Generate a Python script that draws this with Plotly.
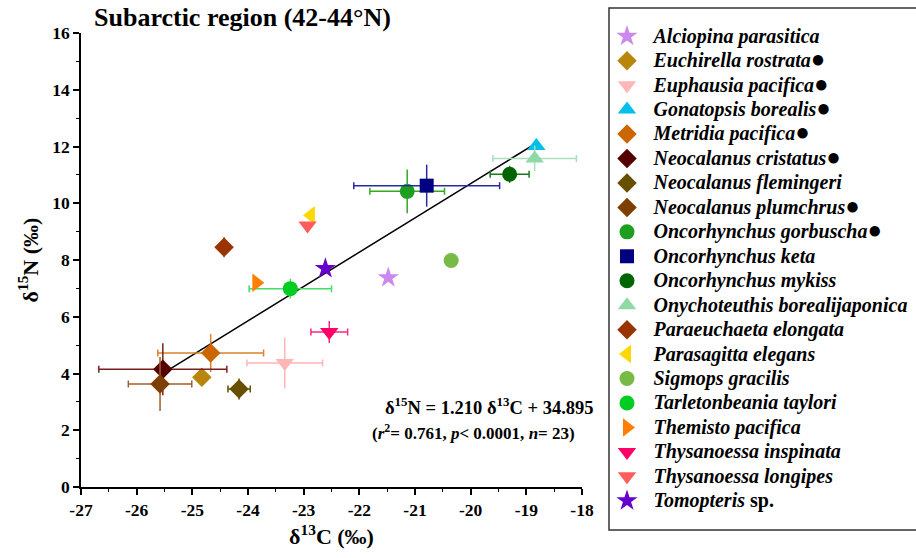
import plotly.graph_objects as go

# ---------------- data ----------------
species = [
    "Alciopina parasitica", "Euchirella rostrata", "Euphausia pacifica",
    "Gonatopsis borealis", "Metridia pacifica", "Neocalanus cristatus",
    "Neocalanus flemingeri", "Neocalanus plumchrus", "Oncorhynchus gorbuscha",
    "Oncorhynchus keta", "Oncorhynchus mykiss", "Onychoteuthis borealijaponica",
    "Paraeuchaeta elongata", "Parasagitta elegans", "Sigmops gracilis",
    "Tarletonbeania taylori", "Themisto pacifica", "Thysanoessa inspinata",
    "Thysanoessa longipes", "Tomopteris sp.",
]
marked = [False, True, True, True, True, True, False, True, True,
          False, False, False, False, False, False, False, False, False, False, False]
d13C = [-21.48, -24.83, -23.34, -18.82, -24.67, -25.53, -24.16, -25.58, -21.14,
        -20.79, -19.30, -18.85, -24.43, -22.87, -20.35, -23.24, -23.85, -22.54,
        -22.93, -22.61]
d15N = [7.38, 3.87, 4.37, 12.02, 4.72, 4.15, 3.45, 3.63, 10.42,
        10.62, 11.02, 11.58, 8.45, 9.58, 7.98, 6.99, 7.20, 5.46,
        9.22, 7.70]
xerr = [None, None, 0.68, None, 0.95, 1.15, 0.20, 0.57, 0.67,
        1.31, 0.35, 0.75, None, None, None, 0.74, None, 0.33,
        None, None]
yerr = [None, None, 0.90, None, 0.67, 0.92, 0.37, 0.95, 0.77,
        0.74, 0.30, 0.45, 0.35, None, None, 0.35, None, 0.39,
        None, None]

slope, intercept = 1.210, 34.895
fit_x = [-25.55, -18.88]

x_ticks = list(range(-27, -17))
y_ticks = list(range(0, 17, 2))

# ---------------- styles ----------------
symbols = ["star", "diamond", "triangle-down", "triangle-up", "diamond", "diamond",
           "diamond", "diamond", "circle", "square", "circle", "triangle-up",
           "diamond", "triangle-left", "circle", "circle", "triangle-right",
           "triangle-down", "triangle-down", "star"]
colors = ["#cc88ee", "#b8860b", "#ffb6b6", "#00bfe8", "#cc6600", "#550000",
          "#665000", "#7f3f00", "#1f9f1f", "#000080", "#006400", "#8fd8a8",
          "#993300", "#ffd700", "#77bb44", "#00cc22", "#ff7f00", "#ff0066",
          "#ff5c5c", "#6600cc"]
err_colors = ["#cc88ee", "#b8860b", "#ffb6b6", "#00bfe8", "#d9822b", "#7a2020",
              "#665000", "#a0602a", "#33aa22", "#2a2aa0", "#1a7a1a", "#a8e0bc",
              "#c0602a", "#ffd700", "#77bb44", "#44dd66", "#ff7f00", "#ff2a7f",
              "#ff5c5c", "#6600cc"]
sizes = [16, 15, 16, 16, 15, 15, 15, 15, 15, 14, 15, 16, 15, 16, 15, 15, 16, 16, 16, 16]

SERIF = "Liberation Serif"

fig = go.Figure()

# regression line
fig.add_trace(go.Scatter(
    x=fit_x, y=[slope * v + intercept for v in fit_x], mode="lines",
    line=dict(color="black", width=1.5), showlegend=False, hoverinfo="skip"))

for i, name in enumerate(species):
    if name.endswith(" sp."):
        core = "<i>" + name[:-4] + "</i> sp."
    else:
        core = "<i>" + name + "</i>"
    label = ("<span style='font-size:26px'>&nbsp;</span>"
             "<span style='font-size:20px'><b>" + core + "</b></span>")
    if marked[i]:
        label += "<span style='font-size:24px'>●</span>"
    ex = dict(visible=False)
    ey = dict(visible=False)
    if xerr[i] is not None:
        ex = dict(type="data", array=[xerr[i]], visible=True, color=err_colors[i],
                  thickness=1.5, width=3.5)
    if yerr[i] is not None:
        ey = dict(type="data", array=[yerr[i]], visible=True, color=err_colors[i],
                  thickness=1.5, width=0)
    fig.add_trace(go.Scatter(
        x=[d13C[i]], y=[d15N[i]], mode="markers", name=label,
        marker=dict(symbol=symbols[i], color=colors[i], size=sizes[i], line=dict(width=0)),
        error_x=ex, error_y=ey))

fig.update_layout(
    width=916, height=558,
    margin=dict(l=81, r=334, t=33, b=71),
    paper_bgcolor="white", plot_bgcolor="white",
    font=dict(family=SERIF, color="black"),
    showlegend=True,
    legend=dict(
        xref="container", yref="container",
        x=607 / 916, y=1 - 19 / 558, xanchor="left", yanchor="top",
        borderwidth=0, bgcolor="rgba(0,0,0,0)",
        font=dict(family=SERIF, size=16.5, color="black"),
        tracegroupgap=0, itemwidth=30, maxheight=550,
    ),
    shapes=[
        dict(type="rect", xref="paper", yref="paper",
             x0=(609 - 81) / 501, x1=1.7, y0=(487 - 530) / 454, y1=(487 - 8) / 454,
             line=dict(color="#333333", width=1.5), fillcolor="rgba(0,0,0,0)", layer="below"),
    ],
    xaxis=dict(
        range=[-27, -18], tickvals=x_ticks, ticktext=[f"<b>{v}</b>" for v in x_ticks],
        showline=True, linecolor="black", linewidth=1.5, mirror=False,
        ticks="outside", ticklen=6, tickwidth=1.5, tickcolor="black",
        minor=dict(dtick=0.5, ticks="outside", ticklen=3, tickwidth=1.2, tickcolor="black"),
        showgrid=False, zeroline=False,
        tickfont=dict(family=SERIF, size=17.5),
        title=dict(text="<b>δ<sup>13</sup>C (‰)</b>", font=dict(family=SERIF, size=22), standoff=10),
    ),
    yaxis=dict(
        range=[0, 16], tickvals=y_ticks, ticktext=[f"<b>{v}</b>" for v in y_ticks],
        showline=True, linecolor="black", linewidth=1.5, mirror=False,
        ticks="outside", ticklen=6, tickwidth=1.5, tickcolor="black",
        minor=dict(dtick=1, ticks="outside", ticklen=3, tickwidth=1.2, tickcolor="black"),
        showgrid=False, zeroline=False,
        tickfont=dict(family=SERIF, size=17.5),
        title=dict(text="<b>δ<sup>15</sup>N (‰)</b>", font=dict(family=SERIF, size=22), standoff=8),
    ),
    annotations=[
        dict(text="<b>Subarctic region (42-44°N)</b>", xref="paper", yref="paper",
             x=0.022, y=1.035, xanchor="left", yanchor="middle", showarrow=False,
             font=dict(family=SERIF, size=26)),
        dict(text=f"<b>δ<sup>15</sup>N = {slope:.3f} δ<sup>13</sup>C + {intercept:.3f}</b>",
             xref="paper", yref="paper", x=0.603, y=0.178, xanchor="left", yanchor="middle",
             showarrow=False, font=dict(family=SERIF, size=18.5)),
        dict(text="<b>(<i>r</i><sup>2</sup>= 0.761, <i>p</i>< 0.0001, <i>n</i>= 23)</b>",
             xref="paper", yref="paper", x=0.577, y=0.121, xanchor="left", yanchor="middle",
             showarrow=False, font=dict(family=SERIF, size=17)),
    ],
)

fig.write_html("out.html")
